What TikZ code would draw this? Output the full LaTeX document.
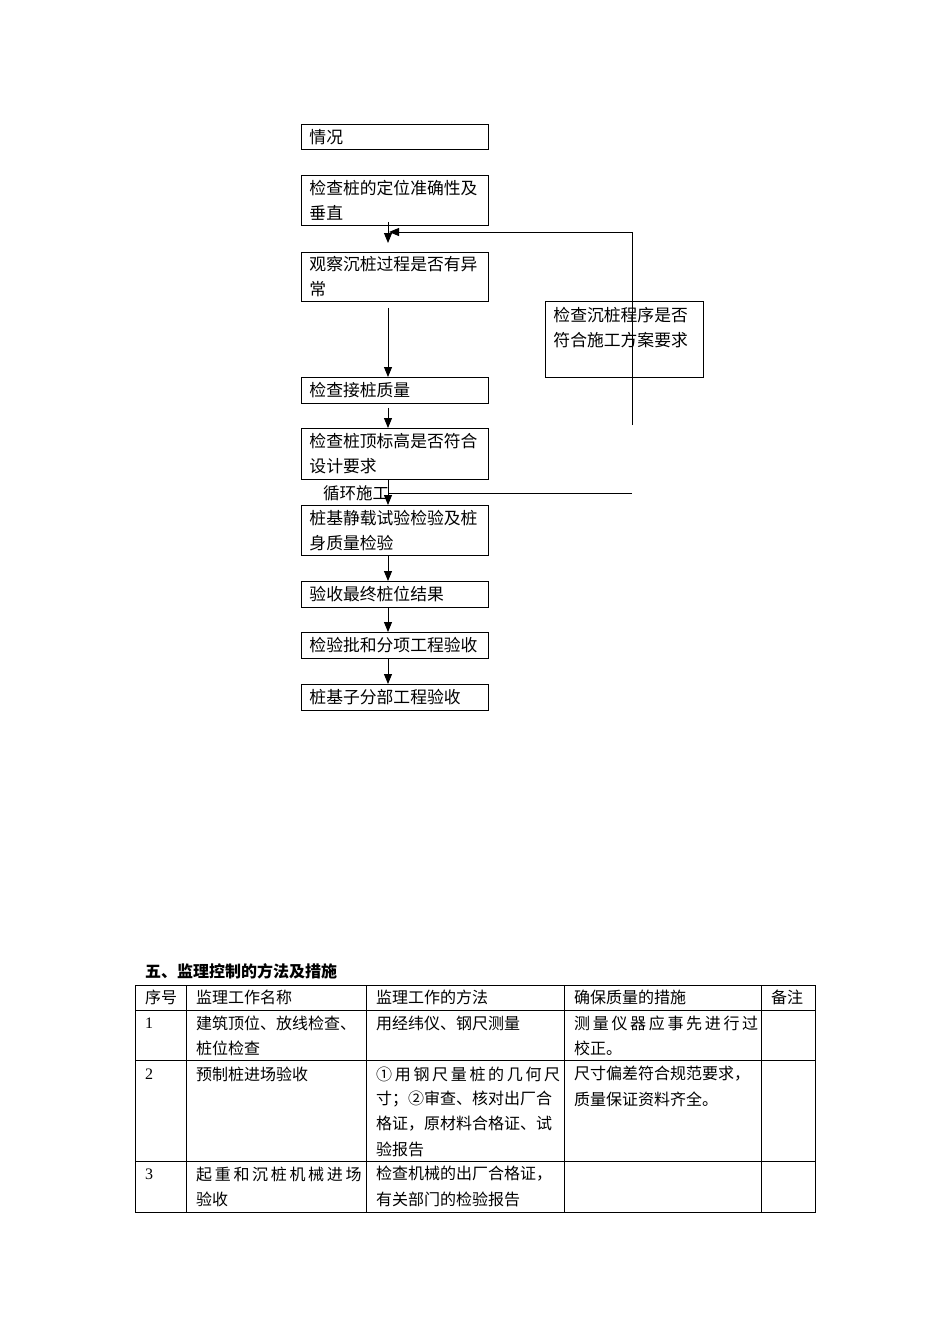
\documentclass[tikz,border=0pt]{standalone}
\usepackage{fontspec}
\setmainfont{Liberation Serif}
\newfontfamily\cjk{Noto Sans CJK SC}
\usetikzlibrary{arrows.meta,calc}
\tikzset{
  fbox/.style={draw,line width=0.9pt,anchor=north west,minimum width=187pt,text width=171pt,
    inner xsep=8pt,inner ysep=0pt,align=left,font=\cjk\fontsize{16.8}{25}\selectfont},
  rbox/.style={draw,line width=0.9pt,anchor=north west,minimum width=158pt,minimum height=76pt,text width=142pt,
    inner xsep=8pt,inner ysep=0pt,align=left,font=\cjk\fontsize{16.8}{25}\selectfont},
  arr/.style={line width=0.9pt,-{Triangle[width=8pt,length=10pt]}},
  ln/.style={line width=0.9pt},
  cell/.style={anchor=west,inner sep=0pt,font=\cjk\fontsize{16}{25}\selectfont},
  num/.style={anchor=west,inner sep=0pt,font=\fontsize{16}{25}\selectfont},
  grid/.style={line width=0.8pt}
}
\begin{document}
\begin{tikzpicture}[x=1pt,y=-1pt]
\useasboundingbox (0,0) rectangle (950,1344);
% flow boxes
\node[fbox,minimum height=25pt] (a1) at (301,124) {情况};
\node[fbox,minimum height=50pt] (a2) at (301,175) {检查桩的定位准确性及\\垂直};
\node[fbox,minimum height=49pt] (a3) at (301,252) {观察沉桩过程是否有异\\常};
\node[fbox,minimum height=26pt] (a4) at (301,377) {检查接桩质量};
\node[fbox,minimum height=51pt] (a5) at (301,428) {检查桩顶标高是否符合\\设计要求};
\node[fbox,minimum height=50pt] (a6) at (301,505) {桩基静载试验检验及桩\\身质量检验};
\node[fbox,minimum height=26pt] (a7) at (301,581) {验收最终桩位结果};
\node[fbox,minimum height=26pt] (a8) at (301,632) {检验批和分项工程验收};
\node[fbox,minimum height=26pt] (a9) at (301,684) {桩基子分部工程验收};
\node[rbox] (r) at (545,301) {检查沉桩程序是否\\符合施工方案要求\\\mbox{}};
\node[anchor=center,inner sep=0pt,font=\cjk\fontsize{16.5}{20}\selectfont] (loop) at (356,493) {循环施工};
% helper coordinates
\coordinate (ax) at (388,0);
\coordinate (t1) at (632,232);
\coordinate (b1) at (632,425);
\coordinate (h2) at (632,493);
% connectors
\draw[arr] ($(a2.south -| ax)+(0,-4)$) -- ($(a3.north -| ax)+(0,-9)$);
\draw[arr] ($(a3.south -| ax)+(0,6)$) -- (a4.north -| ax);
\draw[arr] ($(a4.south -| ax)+(0,4)$) -- (a5.north -| ax);
\draw[arr] (a5.south -| ax) -- (a6.north -| ax);
\draw[arr] (a6.south -| ax) -- (a7.north -| ax);
\draw[arr] (a7.south -| ax) -- (a8.north -| ax);
\draw[arr] (a8.south -| ax) -- (a9.north -| ax);
\draw[ln] (b1) -- (t1);
\draw[arr] (t1) -- ($(t1 -| ax)+(1,0)$);
\draw[ln] (h2) -- (h2 -| ax);
% title
\node[anchor=west,inner sep=0pt,font=\cjk\bfseries\fontsize{16}{20}\selectfont] (title) at (145,971) {五、监理控制的方法及措施};
% table grid
\draw[grid] (135,985) rectangle (815,1212);
\draw[grid] (135,1010) -- (815,1010);
\draw[grid] (135,1060) -- (815,1060);
\draw[grid] (135,1161) -- (815,1161);
\draw[grid] (186,985) -- (186,1212);
\draw[grid] (366,985) -- (366,1212);
\draw[grid] (564,985) -- (564,1212);
\draw[grid] (761,985) -- (761,1212);
% header
\node[cell] (h1) at (145,997) {序号};
\node[cell] (h2t) at (196,997) {监理工作名称};
\node[cell] (h3) at (376,997) {监理工作的方法};
\node[cell] (h4) at (574,997) {确保质量的措施};
\node[cell] (h5) at (771,997) {备注};
% row 1
\node[num] (n1) at (145,1023) {1};
\node[cell] (c11) at (196,1023) {建筑顶位、放线检查、};
\node[cell] (c12) at (196,1048) {桩位检查};
\node[cell] (c13) at (376,1023) {用经纬仪、钢尺测量};
\node[cell] (c14) at (574,1023) {测\,量\,仪\,器\,应\,事\,先\,进\,行\,过};
\node[cell] (c15) at (574,1048) {校正。};
% row 2
\node[num] (n2) at (145,1074) {2};
\node[cell] (c21) at (196,1074) {预制桩进场验收};
\node[cell] (c22) at (376,1074) {①\,用\,钢\,尺\,量\,桩\,的\,几\,何\,尺};
\node[cell] (c23) at (376,1099) {寸；②审查、核对出厂合};
\node[cell] (c24) at (376,1124) {格证，原材料合格证、试};
\node[cell] (c25) at (376,1149) {验报告};
\node[cell] (c26) at (574,1074) {尺寸偏差符合规范要求，};
\node[cell] (c27) at (574,1099) {质量保证资料齐全。};
% row 3
\node[num] (n3) at (145,1174) {3};
\node[cell] (c31) at (196,1174) {起\,重\,和\,沉\,桩\,机\,械\,进\,场};
\node[cell] (c32) at (196,1199) {验收};
\node[cell] (c33) at (376,1174) {检查机械的出厂合格证，};
\node[cell] (c34) at (376,1199) {有关部门的检验报告};
\end{tikzpicture}
\end{document}
